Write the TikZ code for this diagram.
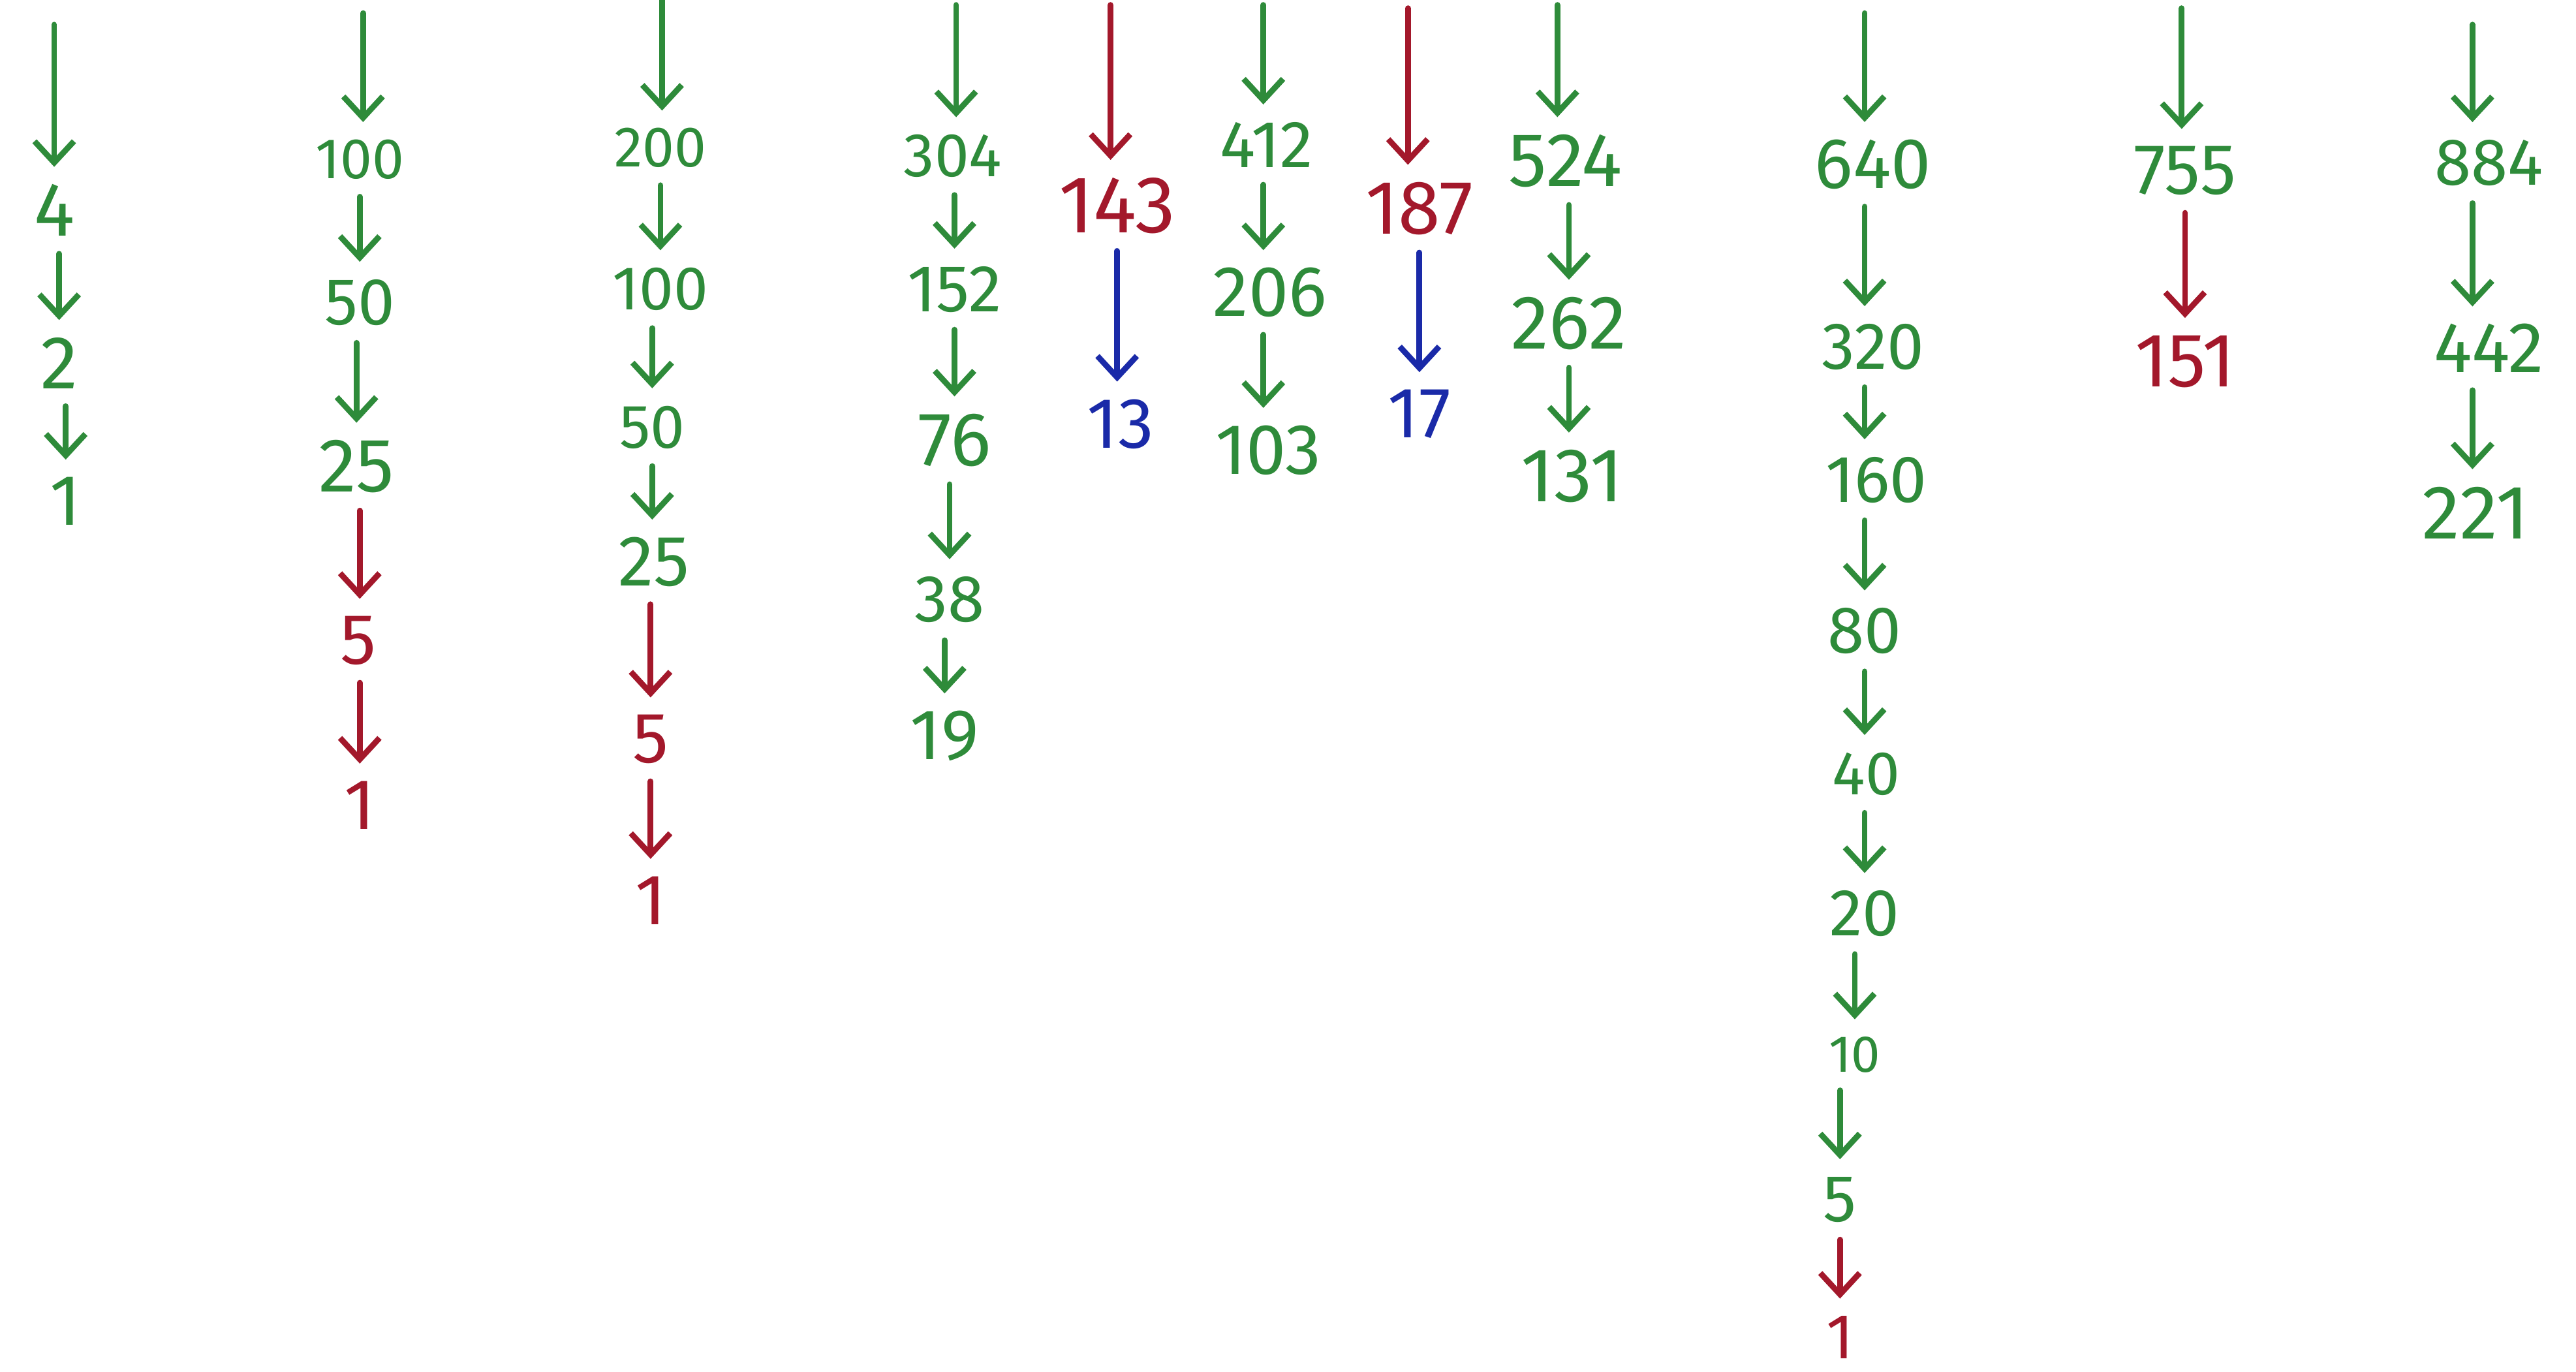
\documentclass[tikz,border=0pt]{standalone}
\usepackage{fontspec}
\setmainfont{Fira Sans}
\usetikzlibrary{arrows.meta}
\definecolor{gr}{RGB}{46,139,58}
\definecolor{rd}{RGB}{163,24,43}
\definecolor{bl}{RGB}{26,42,168}
\tikzset{
  dg/.style={inner sep=1mm, font=\fontsize{#1}{#1}\selectfont},
  ng/.style={dg=#1, text=gr},
  nr/.style={dg=#1, text=rd},
  nb/.style={dg=#1, text=bl},
  arr/.style={-{Straight Barb[length=1.3mm,width=2.4mm]}, line width=1pt, line cap=round},
  ag/.style={arr, draw=gr},
  ar/.style={arr, draw=rd},
  ab/.style={arr, draw=bl}
}
\begin{document}
\begin{tikzpicture}[x=0.1mm,y=-0.1mm]
\useasboundingbox (0,0) rectangle (1568,835);
% column 1
\coordinate (t1) at (33,15);
\node[ng=13.2] (a4) at (33,128) {4};
\node[ng=13] (a2) at (36,221) {2};
\node[ng=12.4] (a1) at (40,305) {1};
\draw[ag] (t1) -- (t1 |- a4.north);
\draw[ag] (a4.south -| a2) -- (a2.north);
\draw[ag] (a2.south -| a1) -- (a1.north);
% column 2
\coordinate (t2) at (221,8);
\node[ng=9.9] (b100) at (219,97) {100};
\node[ng=11.5] (b50) at (219,184) {50};
\node[ng=13.2] (b25) at (217,284) {25};
\node[nr=12.4] (b5) at (218,390) {5};
\node[nr=12.4] (b1) at (219,490) {1};
\draw[ag] (t2) -- (t2 |- b100.north);
\draw[ag] (b100.south) -- (b50.north);
\draw[ag] (b50.south -| b25) -- (b25.north);
\draw[ar] (b25.south -| b1) -- (b1 |- b5.north);
\draw[ar] (b5.south -| b1) -- (b1.north);
% column 3
\coordinate (t3) at (403,0);
\node[ng=9.9] (c200) at (402,90) {200};
\node[ng=10.7] (c100) at (402,176) {100};
\node[ng=10.7] (c50) at (397,260) {50};
\node[ng=12.4] (c25) at (398,342) {25};
\node[nr=12.4] (c5) at (396,450) {5};
\node[nr=12.4] (c1) at (396,548) {1};
\draw[ag] (t3) -- (t3 |- c200.north);
\draw[ag] (c200.south -| c100) -- (c100.north);
\draw[ag] (c100.south -| c50) -- (c50.north);
\draw[ag] (c50.south) -- (c50 |- c25.north);
\draw[ar] (c25.south -| c5) -- (c5.north);
\draw[ar] (c5.south) -- (c1.north);
% column 4
\coordinate (t4) at (582,3);
\node[ng=10.7] (d304) at (580,95) {304};
\node[ng=11.5] (d152) at (581,176) {152};
\node[ng=13.2] (d76) at (581,268) {76};
\node[ng=11.5] (d38) at (578,365) {38};
\node[ng=12.4] (d19) at (575,448) {19};
\draw[ag] (t4) -- (t4 |- d304.north);
\draw[ag] (d304.south -| d152) -- (d152.north);
\draw[ag] (d152.south -| d76) -- (d76.north);
\draw[ag] (d76.south -| d38) -- (d38.north);
\draw[ag] (d38.south -| d19) -- (d19.north);
% column 5
\coordinate (t5) at (676,3);
\node[nr=14] (e143) at (680,125) {143};
\node[nb=12.4] (e13) at (682,258) {13};
\draw[ar] (t5) -- (t5 |- e143.north);
\draw[ab] (e143.south) -- (e143 |- e13.north);
% column 6
\coordinate (t6) at (769,3);
\node[ng=11.5] (f412) at (771,88) {412};
\node[ng=12.4] (f206) at (773,178) {206};
\node[ng=12.4] (f103) at (772,274) {103};
\draw[ag] (t6) -- (t6 |- f412.north);
\draw[ag] (f412.south -| t6) -- (t6 |- f206.north);
\draw[ag] (f206.south -| t6) -- (t6 |- f103.north);
% column 7
\coordinate (t7) at (857,5);
\node[nr=13.2] (g187) at (864,127) {187};
\node[nb=12.4] (g17) at (864,252) {17};
\draw[ar] (t7) -- (t7 |- g187.north);
\draw[ab] (g187.south) -- (g17.north);
% column 8
\coordinate (t8) at (948,3);
\node[ng=13.2] (h524) at (953,98) {524};
\node[ng=13.2] (h262) at (955,197) {262};
\node[ng=13.2] (h131) at (957,290) {131};
\draw[ag] (t8) -- (t8 |- h524.north);
\draw[ag] (h524.south -| h262) -- (h262.north);
\draw[ag] (h262.south) -- (h262 |- h131.north);
% column 9
\coordinate (t9) at (1135,8);
\node[ng=12.4] (i640) at (1140,100) {640};
\node[ng=11.5] (i320) at (1140,211) {320};
\node[ng=11.5] (i160) at (1142,292) {160};
\node[ng=11.5] (i80) at (1135,384) {80};
\node[ng=10.7] (i40) at (1136,471) {40};
\node[ng=11.5] (i20) at (1135,556) {20};
\node[ng=9] (i10) at (1129,642) {10};
\node[ng=11.5] (i5) at (1120,730) {5};
\node[nr=11] (i1) at (1120,814) {1};
\draw[ag] (t9) -- (t9 |- i640.north);
\draw[ag] (i640.south -| t9) -- (t9 |- i320.north);
\draw[ag] (i320.south -| t9) -- (t9 |- i160.north);
\draw[ag] (i160.south -| i80) -- (i80.north);
\draw[ag] (i80.south) -- (i80 |- i40.north);
\draw[ag] (i40.south -| i20) -- (i20.north);
\draw[ag] (i20.south -| i10) -- (i10.north);
\draw[ag] (i10.south -| i5) -- (i5 |- i5.north);
\draw[ar] (i5.south) -- (i5 |- i1.north);
% column 10
\coordinate (t10) at (1328,5);
\node[ng=12.4] (j755) at (1330,104) {755};
\node[nr=13.2] (j151) at (1330,220) {151};
\draw[ag] (t10) -- (t10 |- j755.north);
\draw[ar] (j755.south) -- (j151.north);
% column 11
\coordinate (t11) at (1505,15);
\node[ng=11.5] (k884) at (1515,99) {884};
\node[ng=12.4] (k442) at (1515,212) {442};
\node[ng=13.2] (k221) at (1507,312) {221};
\draw[ag] (t11) -- (t11 |- k884.north);
\draw[ag] (k884.south -| t11) -- (t11 |- k442.north);
\draw[ag] (k442.south -| t11) -- (t11 |- k221.north);
\end{tikzpicture}
\end{document}
